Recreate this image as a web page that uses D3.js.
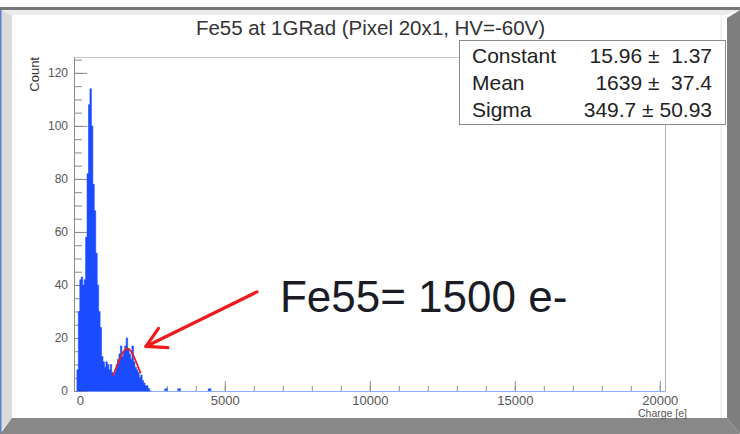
<!DOCTYPE html>
<html>
<head>
<meta charset="utf-8">
<script src="https://cdn.jsdelivr.net/npm/d3@7"></script>
<style>
  html, body { margin: 0; padding: 0; background: #fff; }
  svg { display: block; font-family: "Liberation Sans", Arial, Helvetica, sans-serif; }
</style>
</head>
<body>
<svg id="chart" width="740" height="434"></svg>
<script>
// histogram: 50 e- bins starting at -100
const binStart = -100;
const binWidth = 50;
const counts = [
  8, 30, 42, 43, 40, 42, 58, 82, 108, 114,
  100, 78, 68, 52, 40, 30, 24, 13, 11, 9,
  11, 10, 8, 10, 7, 6, 7, 10, 12, 14,
  17, 13, 15, 17, 20, 16, 14, 12, 17, 11,
  9, 8, 7, 5, 6, 4, 3, 2, 2, 1, 0
];
// isolated single entries further out
const sparseBins = [2950, 3400, 4450];
const sparseCounts = [1, 1, 1];

const xTicks = [0, 5000, 10000, 15000, 20000];
const yTicks = [0, 20, 40, 60, 80, 100, 120];

const fitNames = ["Constant", "Mean", "Sigma"];
const fitValues = ["15.96", "1639", "349.7"];
const fitErrors = ["1.37", "37.4", "50.93"];
const fitRange = [1140, 2100];

const title = "Fe55 at 1GRad (Pixel 20x1, HV=-60V)";
const note = "Fe55= 1500 e-";
const arrowFrom = [6110, 37.4];
const arrowTo = [2280, 16.8];

const svg = d3.select("#chart");

// canvas bevel
svg.append("rect").attr("x", 0).attr("y", 0).attr("width", 740).attr("height", 434).attr("fill", "#fff");
svg.append("rect").attr("x", 0).attr("y", 7).attr("width", 740).attr("height", 3).attr("fill", "#767676");
svg.append("path").attr("d", "M0,10L740,10L727,15L12,15Z").attr("fill", "#ececec");
svg.append("path").attr("d", "M0,10L12,15L12,418L0,432Z").attr("fill", "#dadada");
svg.append("rect").attr("x", 0).attr("y", 10).attr("width", 1.5).attr("height", 424).attr("fill", "#5b7fd6");
svg.append("path").attr("d", "M740,10L740,434L727,418L727,18Z").attr("fill", "#7f7f7f");
svg.append("path").attr("d", "M0,434L740,434L727,418L12,418Z").attr("fill", "#888");
svg.append("line").attr("x1", 721).attr("x2", 721).attr("y1", 15).attr("y2", 418).attr("stroke", "#e4e4e4");

const x = d3.scaleLinear().domain([-200, 20180]).range([74, 665]);
const y = d3.scaleLinear().domain([0, 126]).range([391, 57]);

// frame
svg.append("line").attr("x1", 74).attr("x2", 665).attr("y1", 57.5).attr("y2", 57.5).attr("stroke", "#c8c8c8");
svg.append("line").attr("x1", 665.5).attr("x2", 665.5).attr("y1", 57).attr("y2", 391).attr("stroke", "#b4b4b4");

// axes (drawn first so the histogram sits over the inner ticks)
const xAxis = svg.append("g").attr("transform", "translate(0,391)")
  .call(d3.axisBottom(x).tickValues(xTicks).tickSize(-10).tickSizeOuter(0).tickPadding(5).tickFormat(d3.format("d")));
svg.append("g").attr("transform", "translate(0,391)")
  .call(d3.axisBottom(x).tickValues(d3.range(0, 20001, 1000)).tickSize(-5).tickSizeOuter(0).tickFormat(""))
  .call((g) => g.select(".domain").remove())
  .selectAll("line").attr("stroke", "#8a8a8a");
xAxis.select(".domain").attr("stroke", "#8fabff");
xAxis.selectAll(".tick line").attr("stroke", "#8a8a8a");
xAxis.selectAll("text").attr("font-size", 13).attr("fill", "#555").attr("font-family", "Liberation Sans, Arial, sans-serif");

const yAxis = svg.append("g").attr("transform", "translate(74,0)")
  .call(d3.axisLeft(y).tickValues(yTicks).tickSize(-13).tickSizeOuter(0).tickPadding(6));
svg.append("g").attr("transform", "translate(74,0)")
  .call(d3.axisLeft(y).tickValues(d3.range(0, 126, 5)).tickSize(-8).tickSizeOuter(0).tickFormat(""))
  .selectAll("line, path").attr("stroke", "#8a8a8a");
yAxis.select(".domain").attr("stroke", "#8a8a8a");
yAxis.selectAll(".tick line").attr("stroke", "#8a8a8a");
yAxis.selectAll("text").attr("font-size", 12).attr("fill", "#555").attr("font-family", "Liberation Sans, Arial, sans-serif");

// histogram
const bins = counts.map((c, i) => ({ x0: binStart + i * binWidth, c }));
bins.push({ x0: binStart + counts.length * binWidth, c: 0 });
const area = d3.area()
  .x((d) => x(d.x0))
  .y0(y(0))
  .y1((d) => y(d.c))
  .curve(d3.curveStepAfter);
svg.append("path").datum(bins).attr("d", area).attr("fill", "#1a4bff").attr("stroke", "#1a4bff").attr("stroke-width", 0.6);

svg.append("g")
  .selectAll("rect")
  .data(sparseBins.map((b, i) => ({ x0: b, c: sparseCounts[i] })))
  .join("rect")
  .attr("x", (d) => x(d.x0) - 1)
  .attr("width", (d) => x(d.x0 + binWidth) - x(d.x0) + 2)
  .attr("y", (d) => y(d.c))
  .attr("height", (d) => y(0) - y(d.c))
  .attr("fill", "#3a64ff");

// fit curve
const [fc, fm, fs] = fitValues.map(Number);
const fitLine = d3.line().x((d) => x(d)).y((d) => y(fc * Math.exp(-0.5 * ((d - fm) / fs) ** 2)));
svg.append("path")
  .datum(d3.range(fitRange[0], fitRange[1] + 1, 10))
  .attr("d", fitLine)
  .attr("fill", "none")
  .attr("stroke", "#e8202a")
  .attr("stroke-width", 1.8);

svg.append("text")
  .attr("transform", "translate(39,57) rotate(-90)")
  .attr("text-anchor", "end")
  .attr("font-size", 13)
  .attr("fill", "#333")
  .text("Count");

svg.append("text")
  .attr("x", 687).attr("y", 417)
  .attr("text-anchor", "end")
  .attr("font-size", 10.5)
  .attr("fill", "#555")
  .text("Charge [e]");

// title
svg.append("text")
  .attr("x", 370.5).attr("y", 35)
  .attr("text-anchor", "middle")
  .attr("font-size", 20.5)
  .attr("fill", "#333")
  .text(title);

// stats box
svg.append("rect")
  .attr("x", 459.5).attr("y", 40.5).attr("width", 266).attr("height", 84)
  .attr("fill", "#fff").attr("stroke", "#8a8a8a");
const stats = svg.append("g").attr("font-size", 21).attr("fill", "#222");
fitNames.forEach((n, i) => {
  const by = 63 + i * 27.2;
  stats.append("text").attr("x", 472).attr("y", by).text(n);
  stats.append("text").attr("x", 712).attr("y", by).attr("text-anchor", "end")
    .text(`${fitValues[i]} \u00B1 ${fitErrors[i].padStart(5, "\u00A0")}`);
});

// annotation
svg.append("text")
  .attr("x", x(6900)).attr("y", y(29.8))
  .attr("font-size", 44)
  .attr("fill", "#1b1b26")
  .text(note);

const tx = x(arrowTo[0]), ty = y(arrowTo[1]);
const fx = x(arrowFrom[0]), fy = y(arrowFrom[1]);
const ang = Math.atan2(fy - ty, fx - tx);
const headLen = 22, spread = 29 * Math.PI / 180;
const w1 = [tx + headLen * Math.cos(ang - spread), ty + headLen * Math.sin(ang - spread)];
const w2 = [tx + headLen * Math.cos(ang + spread), ty + headLen * Math.sin(ang + spread)];
const arrow = svg.append("g").attr("stroke", "#ee1c1c").attr("stroke-width", 3.2).attr("fill", "none").attr("stroke-linecap", "round");
arrow.append("line").attr("x1", fx).attr("y1", fy).attr("x2", tx).attr("y2", ty);
arrow.append("path").attr("d", `M${w1[0]},${w1[1]}L${tx},${ty}L${w2[0]},${w2[1]}`).attr("stroke-linejoin", "round");
</script>
</body>
</html>
